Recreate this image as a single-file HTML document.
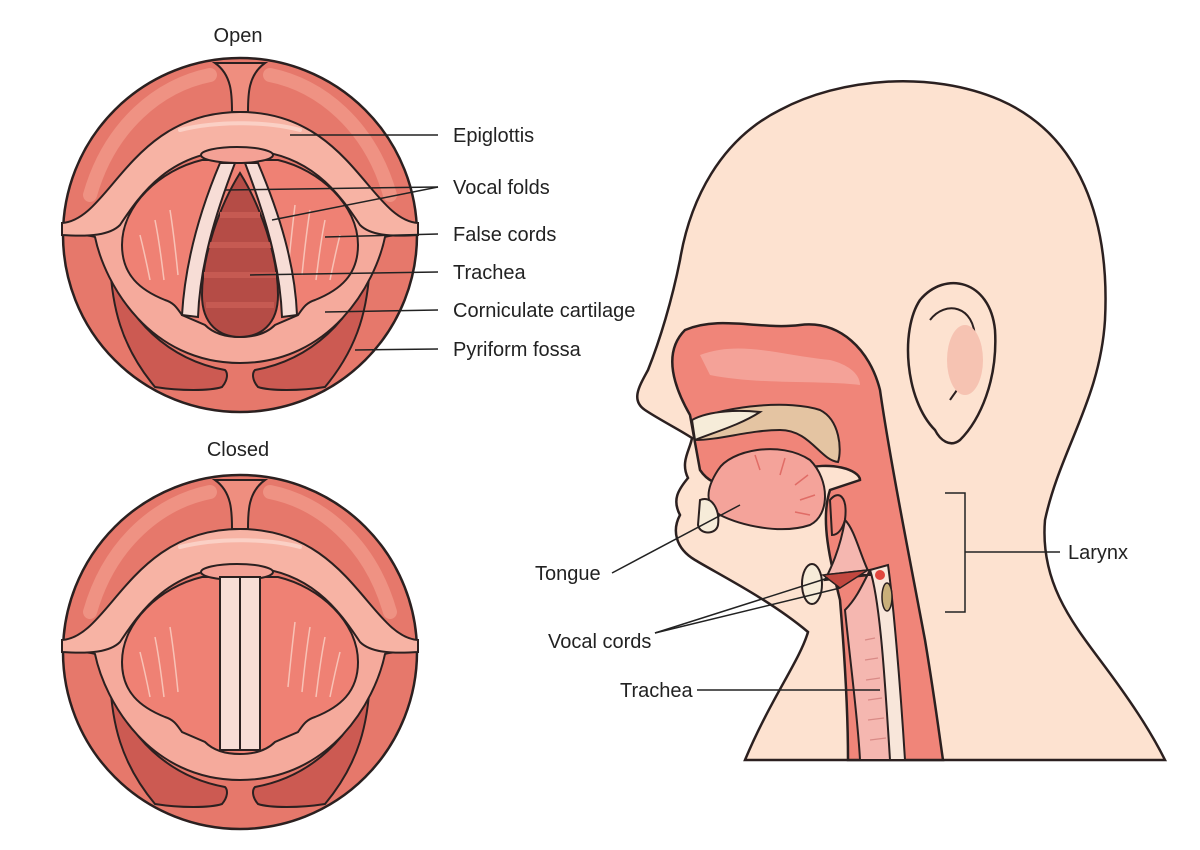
<!DOCTYPE html>
<html><head><meta charset="utf-8"><style>
html,body{margin:0;padding:0;background:#fff;}
svg{display:block}
text{font-family:"Liberation Sans",sans-serif;font-size:20px;fill:#222}
</style></head><body>
<svg width="1200" height="850" viewBox="0 0 1200 850" xmlns="http://www.w3.org/2000/svg">
<defs>
<g id="larynx">
  <circle cx="0" cy="0" r="177" fill="#e6786b" stroke="#2b2020" stroke-width="2.5"/>
  <path d="M-150,-40 C-130,-110 -80,-150 -30,-160" fill="none" stroke="#ef9283" stroke-width="14" stroke-linecap="round"/>
  <path d="M150,-40 C130,-110 80,-150 30,-160" fill="none" stroke="#ef9283" stroke-width="14" stroke-linecap="round"/>
  <path d="M-25,-172 C-8,-160 -8,-140 -8,-123 L8,-123 C8,-140 8,-160 25,-172 Z" fill="#ef8e7f" stroke="#2b2020" stroke-width="2"/>
  <!-- pyriform -->
  <path d="M-130,28 C-128,70 -120,110 -85,152 C-60,156 -30,156 -18,152 C-12,145 -12,138 -15,135 C-70,125 -115,85 -130,28 Z" fill="#cc5a52" stroke="#2b2020" stroke-width="2"/>
  <path d="M130,28 C128,70 120,110 85,152 C60,156 30,156 18,152 C12,145 12,138 15,135 C70,125 115,85 130,28 Z" fill="#cc5a52" stroke="#2b2020" stroke-width="2"/>
  <!-- lower ring -->
  <path d="M-178,0 C-160,0 -150,0 -145,2 C-135,50 -90,128 0,128 C90,128 135,50 145,2 C150,0 160,0 178,0 L178,-8 C150,-8 130,-5 85,-52 L-85,-52 C-130,-5 -150,-8 -178,-8 Z" fill="#f5aa9c" stroke="#2b2020" stroke-width="2"/>
  <!-- aperture -->
  <path d="M-38,-75 C-80,-65 -118,-30 -118,10 C-118,40 -100,55 -75,65 C-65,68 -62,75 -58,80 L-35,90 C-25,100 -10,102 0,102 C10,102 25,100 35,90 L58,80 C62,75 65,68 75,65 C100,55 118,40 118,10 C118,-30 80,-65 38,-75 Z" fill="#ef8174" stroke="#2b2020" stroke-width="2"/>
  <g stroke="#f8c2b6" stroke-width="1.5" fill="none">
    <path d="M-100,0 C-95,20 -92,35 -90,45"/><path d="M-85,-15 C-80,10 -78,30 -76,45"/><path d="M-70,-25 C-66,0 -64,20 -62,40"/>
    <path d="M100,0 C95,20 92,35 90,45"/><path d="M85,-15 C80,10 78,30 76,45"/><path d="M70,-25 C66,0 64,20 62,40"/><path d="M55,-30 C52,-5 50,15 48,35"/>
  </g>
  <!-- epiglottis band -->
  <path d="M-178,-12 C-130,-15 -110,-123 0,-123 C110,-123 130,-15 178,-12 L178,0 C150,2 130,0 120,-10 C100,-40 70,-85 0,-85 C-70,-85 -100,-40 -120,-10 C-130,0 -150,2 -178,0 Z" fill="#f7b3a4" stroke="#2b2020" stroke-width="2"/>
  <path d="M-60,-105 C-20,-115 30,-113 60,-105" fill="none" stroke="#fbd0c5" stroke-width="4" stroke-linecap="round"/>
  <ellipse cx="-3" cy="-80" rx="36" ry="8" fill="#f4a195" stroke="#2b2020" stroke-width="2"/>
</g>
</defs>

<!-- OPEN -->
<text x="238" y="42" text-anchor="middle">Open</text>
<g transform="translate(240,235)">
  <use href="#larynx"/>
  <path d="M0,-62 C-20,-30 -38,20 -38,60 C-38,90 -20,102 0,102 C20,102 38,90 38,60 C38,20 20,-30 0,-62 Z" fill="#b54c46" stroke="#2b2020" stroke-width="2"/>
  <g stroke="#c65a52" stroke-width="6">
    <line x1="-20" y1="-20" x2="20" y2="-20"/><line x1="-32" y1="10" x2="32" y2="10"/><line x1="-36" y1="40" x2="36" y2="40"/><line x1="-34" y1="70" x2="34" y2="70"/>
  </g>
  <path d="M-20,-72 L-5,-72 C-25,-20 -40,30 -42,82 L-58,80 C-55,30 -42,-20 -20,-72 Z" fill="#f7ddd6" stroke="#2b2020" stroke-width="2"/>
  <path d="M5,-72 L18,-72 C40,-20 55,30 57,80 L42,82 C40,30 25,-20 5,-72 Z" fill="#f7ddd6" stroke="#2b2020" stroke-width="2"/>
</g>

<!-- CLOSED -->
<text x="238" y="456" text-anchor="middle">Closed</text>
<g transform="translate(240,652)">
  <use href="#larynx"/>
  <rect x="-20" y="-75" width="40" height="173" fill="#f7ddd6" stroke="#2b2020" stroke-width="2"/>
  <line x1="0" y1="-75" x2="0" y2="98" stroke="#2b2020" stroke-width="2"/>
</g>

<!-- open labels -->
<g stroke="#222" stroke-width="1.5" fill="none">
  <line x1="290" y1="135" x2="438" y2="135"/>
  <line x1="225" y1="190" x2="438" y2="187"/>
  <line x1="272" y1="220" x2="438" y2="187"/>
  <line x1="325" y1="237" x2="438" y2="234"/>
  <line x1="250" y1="275" x2="438" y2="272"/>
  <line x1="325" y1="312" x2="438" y2="310"/>
  <line x1="355" y1="350" x2="438" y2="349"/>
</g>
<text x="453" y="142">Epiglottis</text>
<text x="453" y="194">Vocal folds</text>
<text x="453" y="241">False cords</text>
<text x="453" y="279">Trachea</text>
<text x="453" y="317">Corniculate cartilage</text>
<text x="453" y="356">Pyriform fossa</text>

<!-- HEAD -->
<path d="M745,760 C770,700 800,660 808,632 C770,600 720,575 695,560 C675,548 672,530 680,515 C672,500 678,490 688,478 C680,462 690,450 692,438 C680,430 660,420 645,410 C630,400 640,385 648,370 C660,340 672,300 680,260 C690,200 720,140 780,110 C840,78 930,70 1000,100 C1080,135 1110,220 1105,320 C1100,400 1060,450 1045,520 C1040,580 1070,620 1100,660 C1130,700 1150,730 1165,760 Z" fill="#fde2d0" stroke="#2b2020" stroke-width="2.5"/>
<!-- ear -->
<path d="M935,430 C905,400 900,330 920,300 C945,270 990,280 995,330 C998,380 980,420 960,440 C950,448 940,440 935,430 Z" fill="#fde2d0" stroke="#2b2020" stroke-width="2.5"/>
<path d="M930,320 C945,300 975,305 975,340 C975,370 960,385 950,400" fill="none" stroke="#2b2020" stroke-width="2"/>
<ellipse cx="965" cy="360" rx="18" ry="35" fill="#f6c3b2"/>
<!-- airway -->
<path d="M690,415 C670,380 665,350 685,330 C720,315 760,330 800,325 C840,320 870,350 880,390 C890,460 910,560 925,640 C935,700 940,740 943,760 L848,760 C848,720 845,660 840,600 C830,560 820,520 830,490 L860,480 C860,470 830,460 800,470 C760,480 720,500 700,470 Z" fill="#f08579" stroke="#2b2020" stroke-width="2.5"/>
<path d="M700,355 C740,340 780,355 830,360 C850,365 860,375 860,385 C820,380 760,385 710,375 Z" fill="#f4a298"/>
<!-- palate -->
<path d="M695,420 C730,405 790,400 820,410 C840,420 842,450 838,462 C820,460 810,430 780,430 C750,430 720,440 695,440 Z" fill="#e4c4a2" stroke="#2b2020" stroke-width="2"/>
<path d="M692,420 C710,410 740,410 760,412 C740,425 715,432 695,440 Z" fill="#f6ecd9" stroke="#2b2020" stroke-width="2"/>
<!-- tongue -->
<path d="M718,470 C730,450 780,440 810,460 C830,480 830,515 810,525 C780,535 740,525 720,515 C705,505 705,490 718,470 Z" fill="#f4a39a" stroke="#2b2020" stroke-width="2"/>
<g stroke="#e06c66" stroke-width="1.5"><line x1="760" y1="470" x2="755" y2="455"/><line x1="780" y1="475" x2="785" y2="458"/><line x1="795" y1="485" x2="808" y2="475"/><line x1="800" y1="500" x2="815" y2="495"/><line x1="795" y1="512" x2="810" y2="515"/></g>
<path d="M700,500 C712,495 720,510 718,525 C716,535 700,535 698,525 Z" fill="#f6ecd9" stroke="#2b2020" stroke-width="2"/>
<!-- epiglottis/larynx -->
<path d="M830,500 C838,490 848,495 845,520 C842,530 838,535 832,535 Z" fill="#f08579" stroke="#2b2020" stroke-width="2"/>
<path d="M845,520 C840,550 830,570 825,580 L870,575 C860,555 855,530 845,520 Z" fill="#f5b7b0" stroke="#2b2020" stroke-width="2"/>
<path d="M825,575 L870,570 C860,590 855,600 845,610 C850,660 858,720 860,760 L900,760 C897,720 893,650 885,575 Z" fill="#f5b7b0" stroke="#2b2020" stroke-width="2"/>
<path d="M870,570 L888,565 C893,600 900,680 905,760 L890,760 C885,680 880,600 870,570 Z" fill="#f8e6da" stroke="#2b2020" stroke-width="2"/>
<circle cx="880" cy="575" r="5" fill="#e0463e"/>
<ellipse cx="887" cy="597" rx="5" ry="14" fill="#c9b07a" stroke="#2b2020" stroke-width="1.5"/>
<path d="M823,575 L868,570 L840,588 Z" fill="#c2473f" stroke="#2b2020" stroke-width="1.5"/>
<ellipse cx="812" cy="584" rx="10" ry="20" fill="#f6ecd9" stroke="#2b2020" stroke-width="2"/>
<g stroke="#d98a86" stroke-width="1.2"><line x1="865" y1="640" x2="875" y2="638"/><line x1="865" y1="660" x2="878" y2="658"/><line x1="866" y1="680" x2="880" y2="678"/><line x1="868" y1="700" x2="882" y2="698"/><line x1="868" y1="720" x2="884" y2="718"/><line x1="870" y1="740" x2="886" y2="738"/></g>

<!-- head labels -->
<g stroke="#222" stroke-width="1.5" fill="none">
  <line x1="612" y1="573" x2="740" y2="505"/>
  <line x1="655" y1="633" x2="828" y2="578"/>
  <line x1="655" y1="633" x2="840" y2="588"/>
  <line x1="697" y1="690" x2="880" y2="690"/>
  <path d="M945,493 L965,493 L965,612 L945,612"/>
  <line x1="965" y1="552" x2="1060" y2="552"/>
</g>
<text x="535" y="580">Tongue</text>
<text x="548" y="648">Vocal cords</text>
<text x="620" y="697">Trachea</text>
<text x="1068" y="559">Larynx</text>
</svg>
</body></html>
